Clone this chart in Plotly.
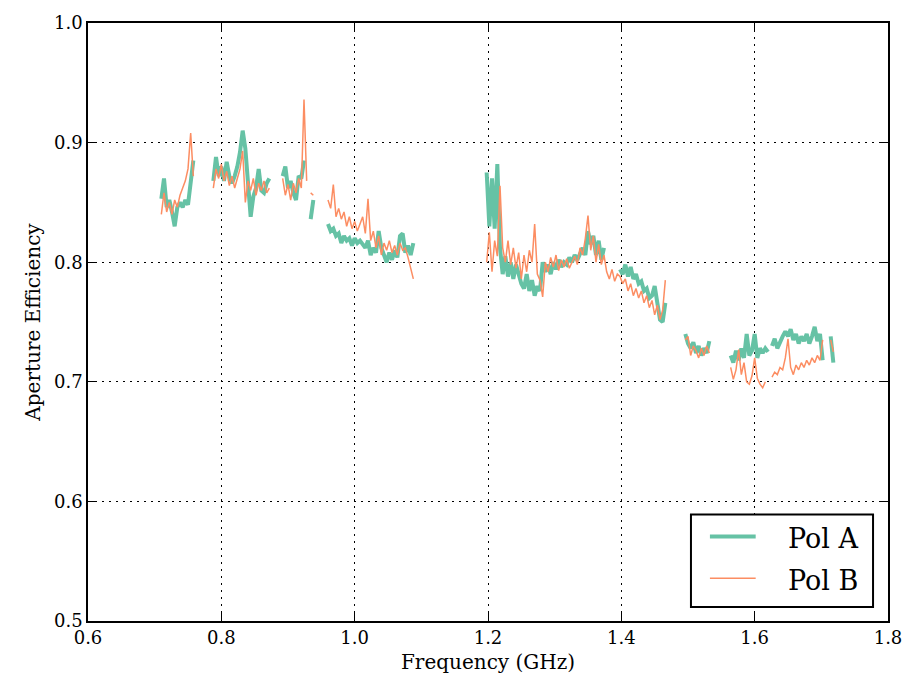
import plotly.graph_objects as go

# Frequency grid spacing of the measurement (GHz)
FREQ_STEP = 0.004

# ---- Pol A: segment start frequencies (GHz) and efficiency values ----
pol_a_starts = [0.710, 0.788, 0.892, 0.934, 0.960, 1.198, 1.398, 1.496, 1.564, 1.626, 1.714]
pol_a_seg1 = [0.853, 0.870, 0.846, 0.852, 0.842, 0.830, 0.846, 0.850, 0.846, 0.852, 0.848, 0.866, 0.885]
pol_a_seg2 = [0.868, 0.888, 0.872, 0.880, 0.868, 0.884, 0.872, 0.866, 0.872, 0.880, 0.892, 0.910,
              0.895, 0.870, 0.838, 0.855, 0.862, 0.878, 0.860, 0.858, 0.866, 0.870]
pol_a_seg3 = [0.872, 0.880, 0.862, 0.868, 0.858, 0.852, 0.872, 0.870, 0.885]
pol_a_seg3b = [0.836, 0.852]
pol_a_seg4 = [0.832, 0.826, 0.828, 0.822, 0.824, 0.816, 0.822, 0.818, 0.820, 0.814,
              0.820, 0.816, 0.818, 0.815, 0.812, 0.818, 0.806, 0.812, 0.808, 0.826,
              0.812, 0.806, 0.800, 0.808, 0.802, 0.810, 0.804, 0.822, 0.824, 0.808,
              0.814, 0.806, 0.816]
pol_a_seg5 = [0.875, 0.830, 0.870, 0.828, 0.882, 0.812, 0.790, 0.805, 0.788, 0.800,
              0.786, 0.798, 0.790, 0.782, 0.778, 0.790, 0.776, 0.785, 0.772, 0.780,
              0.776, 0.800, 0.792, 0.798, 0.790, 0.800, 0.794, 0.802, 0.796, 0.800,
              0.798, 0.804, 0.800, 0.806, 0.802, 0.808, 0.812, 0.806, 0.826, 0.815,
              0.822, 0.806, 0.818, 0.802, 0.812]
pol_a_seg6 = [0.794, 0.790, 0.798, 0.788, 0.796, 0.786, 0.790, 0.782, 0.784, 0.776,
              0.778, 0.770, 0.772, 0.780, 0.766, 0.752, 0.750, 0.766]
pol_a_seg7 = [0.740, 0.732, 0.728, 0.733, 0.724, 0.730, 0.722, 0.728, 0.724, 0.734]
pol_a_seg8a = [0.722, 0.716, 0.726, 0.718, 0.728, 0.720, 0.740, 0.722, 0.726, 0.740,
               0.720, 0.728, 0.724, 0.728, 0.725]
pol_a_seg8b = [0.730, 0.736, 0.728, 0.734, 0.738, 0.742, 0.738, 0.744, 0.735, 0.740,
               0.732, 0.738, 0.734, 0.740, 0.732, 0.738, 0.746, 0.734, 0.740, 0.718]
pol_a_seg8c = [0.738, 0.716]
pol_a_segments = [pol_a_seg1, pol_a_seg2, pol_a_seg3, pol_a_seg3b, pol_a_seg4, pol_a_seg5,
                  pol_a_seg6, pol_a_seg7, pol_a_seg8a, pol_a_seg8b, pol_a_seg8c]

# ---- Pol B ----
pol_b_starts = [0.710, 0.788, 0.892, 0.934, 0.960, 1.198, 1.496, 1.564, 1.626, 1.714]
pol_b_seg1 = [0.840, 0.858, 0.842, 0.850, 0.840, 0.852, 0.846, 0.856, 0.862, 0.868, 0.878, 0.908, 0.872]
pol_b_seg2 = [0.862, 0.878, 0.870, 0.882, 0.868, 0.876, 0.864, 0.872, 0.862, 0.870, 0.878, 0.893,
              0.850, 0.868, 0.860, 0.870, 0.856, 0.866, 0.860, 0.868, 0.858, 0.862]
pol_b_seg3 = [0.870, 0.856, 0.865, 0.852, 0.866, 0.858, 0.870, 0.862, 0.936, 0.868]
pol_b_seg3b = [0.858, 0.856]
pol_b_seg4 = [0.852, 0.845, 0.865, 0.838, 0.845, 0.836, 0.842, 0.830, 0.838, 0.828,
              0.834, 0.826, 0.832, 0.838, 0.824, 0.853, 0.818, 0.826, 0.812, 0.822,
              0.806, 0.816, 0.810, 0.818, 0.808, 0.814, 0.806, 0.816, 0.810, 0.812,
              0.804, 0.796, 0.786]
pol_b_seg5 = [0.800, 0.825, 0.792, 0.818, 0.805, 0.864, 0.812, 0.800, 0.818, 0.798,
              0.812, 0.795, 0.808, 0.786, 0.806, 0.792, 0.810, 0.800, 0.832, 0.790,
              0.785, 0.771, 0.800, 0.792, 0.804, 0.796, 0.806, 0.793, 0.802, 0.796,
              0.803, 0.795, 0.800, 0.805, 0.798, 0.812, 0.806, 0.820, 0.839, 0.810,
              0.822, 0.800, 0.815, 0.798, 0.806,
              0.792, 0.786, 0.794, 0.784, 0.790, 0.788, 0.782, 0.786, 0.776, 0.782,
              0.772, 0.778, 0.770, 0.776, 0.766, 0.772, 0.762, 0.768, 0.756, 0.764,
              0.752, 0.760, 0.785]
pol_b_seg7 = [0.735, 0.738, 0.722, 0.730, 0.726, 0.720, 0.728, 0.722, 0.730, 0.724]
pol_b_seg8a = [0.712, 0.702, 0.710, 0.727, 0.706, 0.716, 0.700, 0.698, 0.705, 0.720,
               0.703, 0.698, 0.695, 0.700]
pol_b_seg8b = [0.704, 0.708, 0.706, 0.712, 0.710, 0.720, 0.736, 0.712, 0.706, 0.714,
               0.710, 0.716, 0.712, 0.718, 0.714, 0.720, 0.716, 0.722, 0.718, 0.735]
pol_b_seg8c = [0.735, 0.725]
pol_b_segments = [pol_b_seg1, pol_b_seg2, pol_b_seg3, pol_b_seg3b, pol_b_seg4, pol_b_seg5,
                  pol_b_seg7, pol_b_seg8a, pol_b_seg8b, pol_b_seg8c]

series_names = ["Pol A", "Pol B"]
series_colors = ["#66c2a5", "#fc8d62"]
series_widths = [4, 1.5]

x_ticks = [0.6, 0.8, 1.0, 1.2, 1.4, 1.6, 1.8]
y_ticks = [0.5, 0.6, 0.7, 0.8, 0.9, 1.0]


def build(starts, segments):
    xs, ys = [], []
    for s, vals in zip(starts, segments):
        for i, v in enumerate(vals):
            xs.append(round(s + i * FREQ_STEP, 4))
            ys.append(v)
        xs.append(None)
        ys.append(None)
    return xs, ys


ax, ay = build(pol_a_starts, pol_a_segments)
bx, by = build(pol_b_starts, pol_b_segments)

FONT = "DejaVu Serif"

fig = go.Figure()
for (xs, ys), name, col, w in zip([(ax, ay), (bx, by)], series_names, series_colors, series_widths):
    fig.add_trace(go.Scatter(x=xs, y=ys, mode="lines", name=name,
                             line=dict(color=col, width=w), connectgaps=False,
                             showlegend=False))

axis_common = dict(
    showline=True, linecolor="black", linewidth=1.5, mirror="ticks",
    ticks="inside", ticklen=8, tickwidth=1, tickcolor="black",
    showgrid=True, gridcolor="black", gridwidth=1, griddash="2px,5px",
    zeroline=False, tickfont=dict(family=FONT, size=18, color="black"),
)

fig.update_xaxes(range=[0.6, 1.8], tickvals=x_ticks, tickformat=".1f",
                 title=dict(text="Frequency (GHz)", font=dict(family=FONT, size=20, color="black"), standoff=8),
                 **axis_common)
fig.update_yaxes(range=[0.5, 1.0], tickvals=y_ticks, tickformat=".1f",
                 title=dict(text="Aperture Efficiency", font=dict(family=FONT, size=20, color="black"), standoff=8),
                 **axis_common)

# Legend box (drawn in paper coordinates, matplotlib-style)
LEG_X0, LEG_X1, LEG_Y0, LEG_Y1 = 0.7537, 0.9813, 0.0233, 0.178
LEG_LINE_X0, LEG_LINE_X1, LEG_TEXT_X = 0.7774, 0.8346, 0.8731
LEG_ROWS = [0.1414, 0.0715]

fig.add_shape(type="rect", xref="paper", yref="paper",
              x0=LEG_X0, x1=LEG_X1, y0=LEG_Y0, y1=LEG_Y1,
              line=dict(color="black", width=2), fillcolor="white", layer="above")
for row_y, name, col, w in zip(LEG_ROWS, series_names, series_colors, series_widths):
    fig.add_shape(type="line", xref="paper", yref="paper",
                  x0=LEG_LINE_X0, x1=LEG_LINE_X1, y0=row_y, y1=row_y,
                  line=dict(color=col, width=w), layer="above")
    fig.add_annotation(xref="paper", yref="paper", x=LEG_TEXT_X, y=row_y - 0.003,
                       xanchor="left", yanchor="middle", showarrow=False, text=name,
                       font=dict(family=FONT, size=27, color="black"))

fig.update_layout(
    width=914, height=686,
    margin=dict(l=88, r=22, t=20, b=65),
    paper_bgcolor="white", plot_bgcolor="white",
    font=dict(family=FONT, color="black"),
    showlegend=False,
)

fig.write_html("out.html")
